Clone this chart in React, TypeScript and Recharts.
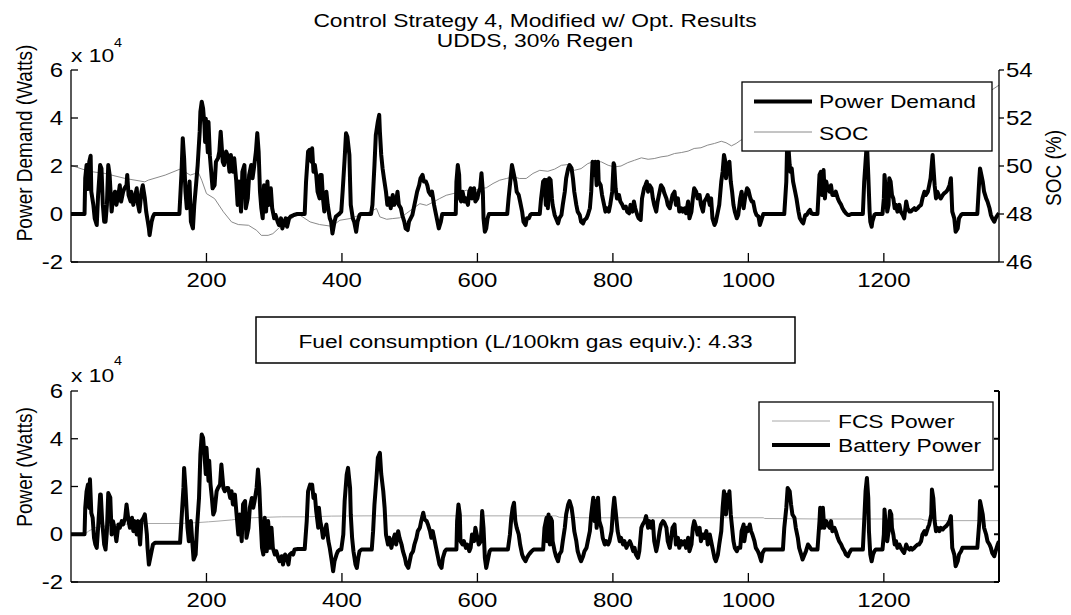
import { LineChart, Line, XAxis, YAxis } from "recharts";

const FONT = '"Liberation Sans", Arial, sans-serif';
const FS = 19;
const TICK_FS = 20;
const SX = 1.2; // the reference is stretched horizontally

// [time (s), power (kW)]
const powerDemand: [number, number][] = [
  [0, 0], [20, 0], [21, 14.9], [23, 20.4], [25, 10.4], [27, 21.8], [29, 24.3], [30, 9.3], [33, 3.8], [35, -1.8],
  [38, -4.6], [40, 7.9], [43, 20.4], [45, 19], [47, 3.8], [49, -3.2], [51, -3.2], [53, 3.8], [55, 20.4], [57, 16.3],
  [60, 1], [62, 6.5], [65, 9.3], [67, 3.8], [70, 7.9], [72, 12], [74, 5.2], [77, 9.3], [79, 10.7], [82, 12],
  [83, 16.3], [85, 7.9], [88, 5.2], [89, 9.3], [92, 3.8], [94, 6.5], [97, 10.7], [99, 3.8], [101, 1], [104, 9.3],
  [106, 12], [109, 6.5], [111, 1], [113, -2.5], [115, -6], [116, -8.8], [119, -3.2], [121, -1.1], [123, 0], [160, 0],
  [163, 16.3], [165, 31.6], [167, 23.2], [169, 9.3], [171, 2.4], [173, 6.5], [175, 13.5], [177, -3.2], [180, -6], [182, 3.8],
  [185, 13.5], [187, 20.4], [190, 34.3], [191, 42.6], [193, 46.8], [195, 44], [197, 37], [198, 30], [199, 39.7], [202, 25.7],
  [203, 38.3], [205, 24.3], [207, 17.6], [209, 10.7], [212, 12], [214, 21.8], [217, 23.2], [219, 26], [221, 34.3], [224, 21.8],
  [226, 20.4], [229, 26], [231, 24.6], [234, 17.6], [236, 24.6], [239, 17.6], [241, 23.2], [244, 13.5], [246, 3.8], [248, 13.5],
  [251, 1], [253, 17.6], [256, 20.4], [258, 2.4], [261, 6.5], [263, 16.3], [266, 20.4], [268, 14.9], [270, 19], [273, 26],
  [275, 33.7], [277, 26], [279, 9.3], [281, 2.4], [283, -1.8], [285, 12], [288, 1], [290, 13.5], [292, 3.8], [295, 10.7],
  [297, 2.4], [300, -1.8], [302, -0.4], [305, -3.2], [307, -4.6], [310, -1.8], [312, -6], [315, -3.2], [317, -1.8], [319, -5.3],
  [322, -1.8], [324, -1.1], [329, -0.4], [334, 0], [345, 0], [347, 13.5], [350, 26], [352, 26.7], [355, 21.8], [356, 27.4],
  [358, 17.6], [360, 20.4], [362, 16.3], [364, 9.3], [367, 6.5], [368, 16.3], [370, 16.3], [372, 6.5], [374, 1], [377, 9.3],
  [379, 3.8], [382, -1.8], [384, -3.2], [386, -8.1], [389, -3.2], [391, -1.1], [394, -0.4], [396, 0], [399, 1], [401, 9.3],
  [404, 23.2], [406, 33.6], [408, 32.2], [411, 24.6], [412, 13.5], [413, 3.8], [416, -1.8], [418, -3.2], [421, -7.4], [423, -3.2],
  [426, -0.4], [428, 0], [443, 0], [445, 3.8], [448, 20.4], [450, 32.9], [453, 38.5], [455, 41.3], [456, 34.3], [458, 24.6],
  [460, 19], [462, 14.9], [465, 9.3], [467, 3.8], [470, 6.5], [472, 2.4], [475, 7.9], [477, 3.8], [480, 5.2], [482, 9.3],
  [484, 3.8], [487, 2.4], [489, -0.4], [492, -3.2], [494, -6], [497, -6.7], [499, -3.2], [504, -0.4], [507, 3.8], [509, 6.5],
  [511, 9.3], [514, 12], [516, 14.9], [519, 16.3], [521, 13.5], [524, 13.5], [526, 12], [528, 9.3], [531, 7.9], [533, 9.3],
  [536, 3.8], [538, 1], [541, -3.2], [543, -6], [546, -3.2], [548, 0], [568, 0], [569, 13.5], [571, 20.4], [573, 16.3],
  [574, 6.5], [576, 5.2], [578, 9.3], [581, 5.2], [583, 6.5], [586, 3.8], [588, 9.3], [590, 10.7], [592, 6.5], [595, 10.7],
  [597, 5.2], [600, 6.5], [602, 9.3], [604, 10.7], [606, 17], [608, 9.3], [609, -1.8], [611, -7.4], [613, -6], [615, -1.8],
  [617, 0], [644, 0], [646, 6.5], [649, 14.9], [651, 20.4], [653, 17.6], [656, 13.5], [658, 9.3], [661, 7.9], [663, 5.2],
  [666, 1], [668, -3.2], [671, -4.6], [673, -1.8], [676, -1.8], [678, -0.4], [680, 0], [692, 0], [694, 6.5], [697, 13.5],
  [699, 14.2], [701, 3.8], [702, 14.2], [704, 2.4], [706, 14.9], [708, 14.2], [710, 6.5], [711, 3.8], [714, -0.4], [716, -1.8],
  [719, -3.9], [721, -1.8], [724, -0.4], [726, 3.8], [729, 9.3], [731, 14.9], [734, 19], [736, 20.4], [739, 19], [741, 14.9],
  [743, 9.3], [746, 3.8], [748, 1], [751, -0.4], [753, -3.2], [756, -3.9], [758, -2.5], [761, -1.8], [763, -0.4], [766, 2.4],
  [768, 9.3], [770, 21.8], [773, 16.3], [774, 21.8], [776, 12], [778, 21.8], [779, 13.5], [782, 12], [784, 7.9], [787, 3.8],
  [789, 1], [791, 2.4], [794, 1], [796, 3.8], [799, 9.3], [801, 21.1], [802, 20.4], [804, 10.7], [806, 6.5], [809, 7.9],
  [811, 5.2], [814, 3.8], [816, 2.4], [819, 3.1], [821, 1], [824, 0.3], [826, 3.8], [829, 1], [831, 5.2], [833, 2.4],
  [836, -0.4], [838, -1.8], [841, -2.5], [843, 6.5], [846, 10.7], [848, 12], [850, 13.5], [852, 9.3], [854, 12], [857, 10.7],
  [859, 6.5], [861, 3.8], [864, 1], [866, 5.2], [869, 9.3], [871, 12], [874, 10.7], [876, 8.6], [879, 6.5], [881, 3.8],
  [884, 2.4], [886, 5.2], [888, 7.9], [891, 9.3], [893, 3.8], [896, 6.5], [898, 1], [901, 2.4], [903, 1], [906, 2.4],
  [908, 0.3], [911, 5.2], [913, -1.8], [916, 1], [918, 6.5], [920, 10.7], [923, 9.3], [925, 6.5], [928, 7.9], [930, 3.8],
  [933, 1], [935, 5.2], [938, 6.5], [940, 7.9], [943, 3.8], [945, 6.5], [947, -1.8], [950, -4.6], [952, -3.2], [955, 1],
  [957, 3.8], [960, 13.5], [962, 17.6], [964, 24.6], [966, 21.8], [967, 14.9], [969, 20.4], [971, 19], [972, 21.8], [974, 13.5],
  [976, 9.3], [978, 3.8], [980, 1], [983, -1.8], [985, -0.4], [988, 6.5], [990, 9.3], [993, 2.4], [995, 6.5], [998, 10.7],
  [1000, 10], [1003, 6.5], [1005, 5.2], [1007, 5.2], [1010, 1], [1012, -0.4], [1015, -1.1], [1017, -4.6], [1020, -1.8], [1022, 0],
  [1053, 0], [1056, 13.5], [1057, 26], [1059, 28.5], [1061, 20.4], [1062, 17.6], [1064, 19], [1066, 13.5], [1069, 9.3], [1071, 6.5],
  [1074, 1], [1076, -1.8], [1079, -3.2], [1081, -3.9], [1084, -0.4], [1086, -0.4], [1089, 1], [1091, 1.7], [1093, 0.3], [1096, 0],
  [1102, 0], [1105, 16.3], [1107, 17.6], [1109, 7.9], [1111, 18.3], [1113, 6.5], [1115, 13.5], [1117, 10.7], [1120, 9.3], [1122, 12],
  [1124, 7.9], [1127, 7.9], [1129, 9.3], [1132, 6.5], [1134, 5.2], [1137, 3.8], [1139, 2.4], [1142, 1], [1144, 0.3], [1147, -0.4],
  [1149, -0.4], [1152, 0], [1169, 0], [1171, 13.5], [1174, 26], [1175, 30], [1177, 16.3], [1179, 1], [1180, -3.2], [1182, -5.3],
  [1183, -3.2], [1186, -0.4], [1188, 0], [1198, 0], [1200, 6.5], [1201, 16.3], [1203, 9.3], [1205, 1], [1207, 3.8], [1208, 14.9],
  [1210, 13.5], [1212, 7.9], [1214, 6.5], [1216, 2.4], [1218, 3.8], [1220, 1], [1223, 3.8], [1225, 1], [1228, -0.4], [1230, -1.8],
  [1233, 5.2], [1235, 2.4], [1238, 1], [1240, 1], [1242, 1.7], [1245, 2.4], [1247, 1.7], [1250, 2.4], [1252, 3.1], [1255, 3.8],
  [1257, 6.5], [1260, 9.3], [1262, 7.9], [1265, 9.3], [1267, 12], [1269, 14.9], [1272, 24.6], [1273, 20.4], [1275, 12], [1277, 6.5],
  [1279, 9.3], [1282, 7.2], [1284, 6.5], [1287, 7.9], [1289, 8.6], [1292, 9.3], [1294, 10], [1297, 12], [1299, 14.9], [1301, 1],
  [1304, -1.8], [1306, -7.4], [1309, -6], [1311, -1.8], [1314, -0.4], [1316, 0], [1338, 0], [1341, 14.9], [1342, 19], [1344, 16.3],
  [1346, 13.5], [1348, 9.3], [1351, 6.5], [1353, 5.2], [1356, 2.4], [1358, -0.4], [1360, -1.8], [1363, -3.2], [1365, -1.8], [1368, -0.4],
  [1370, 0.3],
];

// [time (s), state of charge (%)]
const soc: [number, number][] = [
  [0, 50.03], [26, 49.78], [50, 49.69], [80, 49.48], [109, 49.34], [114, 49.41], [139, 49.62], [161, 49.87], [168, 49.76], [176, 49.62],
  [188, 49.73], [193, 49.41], [200, 48.85], [212, 48.64], [225, 48.09], [237, 47.67], [247, 47.56], [262, 47.53], [274, 47.32], [281, 47.11],
  [291, 47.11], [298, 47.18], [306, 47.39], [316, 47.67], [326, 47.81], [335, 48.02], [338, 47.95], [353, 47.67], [367, 47.56], [382, 47.5],
  [387, 47.53], [397, 47.74], [412, 47.81], [426, 47.95], [441, 48.09], [451, 48.23], [456, 47.88], [466, 47.78], [475, 47.81], [485, 47.84],
  [495, 48.02], [505, 48.23], [515, 48.43], [525, 48.36], [535, 48.5], [544, 48.64], [554, 48.78], [564, 48.85], [574, 48.92], [584, 48.99],
  [594, 48.95], [603, 49.06], [613, 49.09], [623, 49.27], [633, 49.41], [643, 49.48], [653, 49.55], [662, 49.48], [672, 49.48], [682, 49.69],
  [692, 49.82], [704, 49.78], [714, 49.87], [724, 50.03], [734, 50.06], [743, 49.82], [753, 49.89], [763, 50.1], [773, 50.2], [783, 50.17],
  [793, 50.03], [802, 49.96], [812, 50.0], [822, 50.14], [832, 50.24], [842, 50.34], [852, 50.28], [861, 50.31], [871, 50.38], [881, 50.42],
  [891, 50.52], [901, 50.56], [911, 50.62], [920, 50.73], [930, 50.76], [940, 50.87], [950, 50.94], [960, 51.03], [967, 50.97], [975, 50.84],
  [982, 50.94], [989, 51.08], [1000, 51.2], [1040, 51.5], [1080, 51.8], [1120, 52.1], [1160, 52.3], [1200, 52.5], [1240, 52.7], [1280, 52.9],
  [1320, 53.0], [1359, 53.16], [1370, 53.37],
];

// [time (s), fuel cell system power (kW)]
const fcsPower: [number, number][] = [
  [0, 0], [20, 0], [26, 1.3], [35, 2.7], [50, 3.4], [65, 4.1], [89, 4.3], [114, 4.5], [161, 4.5], [188, 4.9],
  [203, 5.2], [217, 5.5], [237, 6.0], [252, 6.6], [267, 6.9], [286, 7.1], [311, 7.3], [345, 7.3], [385, 7.6], [434, 7.7],
  [716, 7.7], [721, 7.1], [745, 7.0], [751, 6.9], [1022, 6.9], [1024, 6.6], [1100, 6.4], [1255, 6.4], [1260, 5.9], [1282, 5.7],
  [1370, 5.7],
];

// [time (s), battery power (kW)]
const batteryPower: [number, number][] = [
  [0, 0], [20, 0], [21, 11], [23, 18], [25, 20.8], [27, 11], [28, 23], [30, 8.9], [32, 6.9], [34, -1.5],
  [36, -4.3], [38, -5.7], [40, 2.7], [43, 16.6], [44, 16.6], [46, 5.5], [49, -4.3], [51, -6.4], [53, 1.3], [55, 17.3],
  [58, 15.4], [60, -0.1], [62, 5.5], [65, 1.3], [67, -2.9], [70, 4.1], [72, 2.7], [75, 5.5], [77, 4.1], [80, 6.9],
  [82, 12.5], [85, 5.5], [87, 2.7], [90, 6.9], [92, 1.3], [94, 5.5], [97, -0.1], [99, 5.5], [102, -4.3], [104, 5.5],
  [107, 6.9], [109, 8.3], [112, -0.1], [113, -5.7], [115, -12.7], [117, -9.9], [119, -7.1], [121, -4.3], [124, -3.6], [161, -3.6],
  [163, 5.5], [166, 19.4], [167, 27.8], [169, 19.4], [172, 2.7], [174, -2.9], [176, 1.3], [177, 5.5], [179, -2.9], [181, -10.6],
  [184, -8.5], [186, 2.7], [189, 15.2], [191, 33.4], [193, 41.8], [195, 40.4], [197, 33.4], [199, 25.2], [200, 36.2], [203, 22.4],
  [204, 30.8], [206, 20.8], [208, 15.2], [210, 8.3], [212, 9.7], [215, 18], [217, 19.4], [220, 20.8], [222, 29.2], [225, 19.4],
  [227, 18], [230, 19.4], [232, 19.4], [235, 15.2], [237, 18], [239, 12.5], [242, 16.6], [244, 9.7], [247, -0.1], [249, 8.3],
  [252, -2.9], [254, 12.5], [257, 13.9], [259, -1.5], [262, 2.7], [264, 11.1], [267, 15.2], [269, 11.1], [271, 13.9], [274, 19.4],
  [276, 27.1], [278, 19.4], [280, 5.5], [282, -5.7], [284, -8.5], [286, 6.9], [289, -7.1], [291, 5.5], [294, -5.7], [296, 2.7],
  [298, -5.7], [301, -8.5], [303, -7.1], [306, -9.9], [308, -11.3], [311, -9.2], [313, -12.7], [316, -8.5], [318, -9.2], [321, -12.7],
  [323, -8.5], [326, -7.8], [328, -8.5], [330, -6.4], [335, -6.2], [345, -6.2], [348, 5.5], [350, 18], [353, 20.8], [355, 19.4],
  [356, 20.8], [358, 15.2], [360, 16.6], [362, 9.7], [365, 2.7], [366, 11.1], [368, 5.5], [370, 2.7], [372, -1.5], [375, 1.3],
  [377, 4.1], [380, -2.9], [382, -5.7], [385, -11.3], [387, -15.5], [389, -11.3], [392, -8.5], [394, -7.1], [397, -6.4], [399, -6.4],
  [402, -0.1], [404, 13.9], [407, 25], [409, 27.8], [412, 19.4], [413, 8.3], [415, -1.5], [417, -7.1], [420, -12.7], [422, -14.1],
  [424, -9.9], [426, -7.1], [429, -6.4], [444, -6.4], [446, 1.3], [448, 12.5], [451, 23.6], [453, 32], [456, 34.1], [458, 25.2],
  [461, 18], [463, 11.1], [465, -0.1], [468, -4.3], [470, -1.5], [473, -5.7], [475, -2.9], [478, -0.1], [480, -4.3], [483, 1.3],
  [485, -1.5], [488, -4.3], [490, -7.1], [493, -9.9], [495, -12.7], [498, -14.1], [500, -11.3], [502, -8.5], [505, -7.1], [507, -4.3],
  [510, -1.5], [512, 1.3], [515, 2.7], [517, 5.5], [520, 9], [522, 6.2], [525, 5.5], [527, 4.1], [530, 1.3], [532, -1.5],
  [534, 1.3], [537, -2.9], [539, -5.7], [542, -9.9], [544, -12.7], [547, -14.1], [549, -9.9], [552, -7.1], [554, -6.4], [569, -6.4],
  [570, 5.5], [572, 12.5], [574, 8.3], [575, -2.9], [578, -4.3], [580, -2.9], [583, -5.7], [585, -4.3], [588, -7.1], [590, -5.7],
  [592, -0.1], [595, -2.9], [597, 2.7], [600, -1.5], [602, -4.3], [605, -2.9], [607, 9.7], [609, 2.7], [611, -9.9], [613, -14.1],
  [616, -9.9], [618, -7.1], [620, -6.4], [645, -6.4], [648, -0.1], [650, 6.9], [652, 11.1], [654, 13.2], [656, 5.5], [658, 2.7],
  [661, -0.1], [663, -4.3], [666, -8.5], [668, -9.9], [671, -11.3], [673, -9.9], [676, -8.5], [678, -7.8], [680, -7.1], [683, -6.4],
  [697, -6.4], [699, 2.7], [702, 6.9], [703, -2.9], [705, 8.3], [707, -4.3], [708, 6.9], [710, 5.5], [711, -2.9], [714, -7.1],
  [716, -9.2], [719, -11.3], [721, -8.5], [724, -7.1], [726, -2.9], [729, 2.7], [731, 8.3], [734, 12.5], [736, 13.9], [739, 11.1],
  [741, 6.9], [743, 1.3], [746, -2.9], [748, -7.1], [751, -9.9], [753, -11.3], [756, -9.2], [758, -7.1], [761, -5.7], [763, -2.9],
  [766, 1.3], [768, 8.3], [771, 15.3], [773, 5.5], [774, 13.9], [776, 2.7], [778, 15.3], [780, 5.5], [783, 2.7], [785, -1.5],
  [788, -4.3], [790, -2.9], [793, -4.3], [795, -2.9], [798, 1.3], [800, 9.7], [802, 15.3], [805, 6.9], [807, 1.3], [810, -2.9],
  [812, -1.5], [815, -4.3], [817, -2.9], [820, -5.7], [822, -4.3], [825, -2.9], [827, -4.3], [830, -7.1], [832, -5.7], [834, -8.5],
  [837, -9.9], [839, -7.1], [842, 2.7], [844, 4.1], [847, 5.5], [849, 7.6], [852, 2.7], [854, 5.5], [857, 2.7], [859, 5.5],
  [861, -2.9], [864, -7.1], [866, -4.3], [869, 1.3], [871, 4.1], [874, 5.5], [876, 4.8], [879, 2.7], [881, -2.9], [884, -5.7],
  [886, -1.5], [888, 2.7], [891, 4.1], [893, -4.3], [896, -1.5], [898, -5.7], [901, -2.9], [903, -4.3], [906, -2.9], [908, -5.7],
  [911, -1.5], [913, -7.1], [916, -4.3], [918, 2.7], [920, 5.5], [923, 2.7], [925, -0.1], [928, 2.7], [930, -2.9], [933, -0.1],
  [935, -1.5], [938, 1.3], [940, -4.3], [943, -0.1], [945, -2.9], [947, -5.7], [950, -9.9], [952, -11.3], [955, -8.5], [957, -4.3],
  [960, 1.3], [962, 11.1], [964, 18], [966, 13.9], [967, 8.3], [969, 16.6], [971, 15.2], [972, 18], [974, 8.3], [976, 2.7],
  [978, -2.9], [980, -5.7], [983, -7.1], [985, -5.7], [988, -5.7], [990, 1.3], [993, 4.1], [994, -2.9], [997, 2.7], [999, 1.3],
  [1002, 4.1], [1004, 1.3], [1006, -0.1], [1009, -2.9], [1011, -5.7], [1014, -7.1], [1016, -8.5], [1019, -11.3], [1021, -7.8], [1024, -6.4],
  [1051, -6.4], [1053, 2.7], [1056, 11.1], [1058, 19.4], [1061, 18], [1063, 12.5], [1065, 8.3], [1068, 6.9], [1070, 2.7], [1073, -1.5],
  [1075, -5.7], [1078, -8.5], [1080, -10.6], [1083, -8.5], [1085, -7.1], [1088, -4.3], [1090, -5], [1093, -6.4], [1102, -6.4], [1105, 5.5],
  [1106, 11.1], [1108, 2.7], [1110, 11.1], [1112, 2.7], [1115, 5.5], [1117, 4.1], [1120, 2.7], [1122, 5.5], [1124, 1.3], [1127, 2.7],
  [1129, 1.3], [1132, -1.5], [1134, -2.9], [1137, -4.3], [1139, -5.7], [1142, -7.1], [1144, -8.5], [1147, -9.2], [1149, -7.8], [1152, -6.4],
  [1169, -6.4], [1171, 5.5], [1173, 18], [1175, 23.6], [1177, 15.2], [1178, 1.3], [1180, -8.5], [1182, -11.3], [1184, -8.5], [1186, -7.1],
  [1188, -6.4], [1198, -6.4], [1200, -0.1], [1201, 10.4], [1203, 2.7], [1205, -2.9], [1207, 1.3], [1209, 9.7], [1211, 8.3], [1212, 2.7],
  [1214, -0.1], [1216, -4.3], [1218, -2.9], [1220, -5.7], [1223, -4.3], [1225, -5.7], [1228, -7.1], [1230, -7.8], [1233, -4.3], [1235, -5.7],
  [1238, -6.4], [1240, -5.7], [1242, -6.4], [1245, -5.7], [1247, -5], [1250, -4.3], [1252, -4.3], [1255, -2.9], [1257, -0.1], [1260, 1.3],
  [1262, -0.1], [1265, 2.7], [1267, 4.1], [1270, 8.3], [1271, 18.7], [1273, 15.2], [1275, 5.5], [1277, 1.3], [1279, 2.7], [1282, 1.3],
  [1284, 2.7], [1287, 2], [1289, 2.7], [1292, 3.4], [1294, 4.1], [1297, 5.5], [1299, 7.6], [1301, -5.7], [1304, -8.5], [1306, -13.4],
  [1309, -11.3], [1311, -8.5], [1314, -7.1], [1316, -5.7], [1338, -5.7], [1341, 5.5], [1342, 13.9], [1344, 11.1], [1346, 8.3], [1348, 2.7],
  [1351, -0.1], [1353, -2.9], [1356, -4.3], [1358, -5.7], [1360, -7.8], [1363, -9.2], [1365, -7.1], [1368, -4.3], [1370, -2.9],
];

const timeDomain = [0, 1370];
const timeTicks = [200, 400, 600, 800, 1000, 1200];
const powerTicks = [-20, 0, 20, 40, 60]; // kW, labelled in units of 10^4 W
const socTicks = [46, 48, 50, 52, 54];

const rows = (pairs: [number, number][]) => pairs.map(([t, v]) => ({ t, v }));

const tenThousands = (v: number) => String(v / 10);

function tickText(fmt: (v: number) => string, dy: string) {
  return (p: any) => (
    <g transform={`translate(${p.x},${p.y}) scale(${SX},1)`}>
      <text x={0} y={0} dy={dy} textAnchor={p.textAnchor} fontSize={TICK_FS} fontFamily={FONT} fill="#000">
        {fmt(p.payload.value)}
      </text>
    </g>
  );
}
const noTick = () => <g />;

function Txt(props: { x: number; y: number; anchor?: string; size?: number; rot?: number; children: any; central?: boolean }) {
  const { x, y, anchor = "middle", size = FS, rot = 0, children, central } = props;
  return (
    <g transform={`translate(${x},${y}) scale(${SX},1)${rot ? ` rotate(${rot})` : ""}`}>
      <text textAnchor={anchor as any} dominantBaseline={central ? "central" : "auto"} fontSize={size} fontFamily={FONT} fill="#000">
        {children}
      </text>
    </g>
  );
}

const AX = "#000";
const THICK = 4;

export default function App() {
  const demand = rows(powerDemand);
  const socRows = rows(soc);
  const fcs = rows(fcsPower);
  const batt = rows(batteryPower);

  return (
    <div style={{ position: "absolute", left: 0, top: 0, width: 1071, height: 615, background: "#fff" }}>
      <div style={{ position: "absolute", left: 0, top: 0 }}>
        <LineChart width={1071} height={310} margin={{ top: 70, right: 0, bottom: 8, left: 0 }}>
          <XAxis xAxisId="b" type="number" dataKey="t" domain={timeDomain} ticks={timeTicks} interval={0} allowDataOverflow
            height={40} tickSize={-9} tickMargin={20} tick={tickText(String, "0.71em")} stroke={AX} strokeWidth={1.3} />
          <XAxis xAxisId="t" orientation="top" type="number" dataKey="t" domain={timeDomain} ticks={timeTicks} interval={0} allowDataOverflow
            height={0} tickSize={-9} tick={noTick} stroke={AX} strokeWidth={1.3} />
          <YAxis yAxisId="p" domain={[-20, 60]} ticks={powerTicks} interval={0} allowDataOverflow width={71}
            tickSize={-7} tickMargin={15} tick={tickText(tenThousands, "0.35em")} stroke={AX} strokeWidth={1.3} />
          <YAxis yAxisId="s" orientation="right" domain={[46, 54]} ticks={socTicks} interval={0} allowDataOverflow width={72}
            tickSize={5} tickMargin={2} tick={tickText(String, "0.35em")} stroke={AX} strokeWidth={1.3} />
          <Line xAxisId="b" yAxisId="s" data={socRows} dataKey="v" type="linear" stroke="#8a8a8a" strokeWidth={1}
            dot={false} isAnimationActive={false} />
          <Line xAxisId="b" yAxisId="p" data={demand} dataKey="v" type="linear" stroke="#000" strokeWidth={THICK}
            strokeLinejoin="round" dot={false} isAnimationActive={false} />
        </LineChart>
      </div>

      <div style={{ position: "absolute", left: 0, top: 300 }}>
        <LineChart width={1071} height={315} margin={{ top: 91, right: 0, bottom: 3, left: 0 }}>
          <XAxis xAxisId="b" type="number" dataKey="t" domain={timeDomain} ticks={timeTicks} interval={0} allowDataOverflow
            height={30} tickSize={-9} tickMargin={20} tick={tickText(String, "0.71em")} stroke={AX} strokeWidth={1.3} />
          <XAxis xAxisId="t" orientation="top" type="number" dataKey="t" domain={timeDomain} ticks={timeTicks} interval={0} allowDataOverflow
            height={0} tickSize={-9} tick={noTick} stroke={AX} strokeWidth={1.3} />
          <YAxis yAxisId="p" domain={[-20, 60]} ticks={powerTicks} interval={0} allowDataOverflow width={71}
            tickSize={-7} tickMargin={15} tick={tickText(tenThousands, "0.35em")} stroke={AX} strokeWidth={1.3} />
          <YAxis yAxisId="r" orientation="right" domain={[-20, 60]} ticks={powerTicks} interval={0} allowDataOverflow width={72}
            tickSize={-5} tick={noTick} stroke={AX} strokeWidth={2} />
          <Line xAxisId="b" yAxisId="p" data={fcs} dataKey="v" type="linear" stroke="#a8a8a8" strokeWidth={1}
            dot={false} isAnimationActive={false} />
          <Line xAxisId="b" yAxisId="p" data={batt} dataKey="v" type="linear" stroke="#000" strokeWidth={THICK}
            strokeLinejoin="round" dot={false} isAnimationActive={false} />
        </LineChart>
      </div>

      <svg width={1071} height={615} style={{ position: "absolute", left: 0, top: 0, pointerEvents: "none" }}>
        <Txt x={535} y={27}>Control Strategy 4, Modified w/ Opt. Results</Txt>
        <Txt x={535} y={46.5}>UDDS, 30% Regen</Txt>

        <Txt x={71} y={62} anchor="start">x 10</Txt>
        <Txt x={114} y={47} anchor="start" size={12}>4</Txt>
        <Txt x={71} y={381.5} anchor="start">x 10</Txt>
        <Txt x={114} y={365} anchor="start" size={12}>4</Txt>

        <Txt x={24} y={143} rot={-90} central>Power Demand (Watts)</Txt>
        <Txt x={1053} y={168} rot={-90} central>SOC (%)</Txt>
        <Txt x={24} y={467} rot={-90} central>Power (Watts)</Txt>

        <rect x={742} y={82} width={250} height={69} fill="#fff" stroke="#000" strokeWidth={1.3} />
        <line x1={754} x2={812} y1={101.5} y2={101.5} stroke="#000" strokeWidth={THICK} />
        <Txt x={819} y={101.5} anchor="start" central>Power Demand</Txt>
        <line x1={754} x2={812} y1={132} y2={132} stroke="#8a8a8a" strokeWidth={1} />
        <Txt x={819} y={133} anchor="start" central>SOC</Txt>

        <rect x={256} y={317} width={539} height={46} fill="#fff" stroke="#000" strokeWidth={1.5} />
        <Txt x={525.5} y={341} central>Fuel consumption (L/100km gas equiv.): 4.33</Txt>

        <rect x={759} y={402} width={234} height={68} fill="#fff" stroke="#000" strokeWidth={1.3} />
        <line x1={772} x2={830} y1={421} y2={421} stroke="#a8a8a8" strokeWidth={1} />
        <Txt x={838} y={421} anchor="start" central>FCS Power</Txt>
        <line x1={772} x2={830} y1={445} y2={445} stroke="#000" strokeWidth={THICK} />
        <Txt x={838} y={445} anchor="start" central>Battery Power</Txt>
      </svg>
    </div>
  );
}
